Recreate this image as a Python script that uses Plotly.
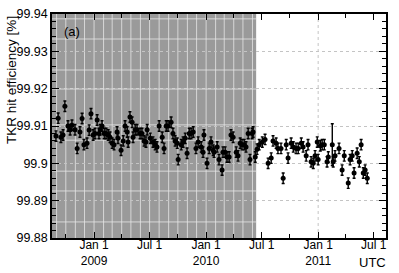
import plotly.graph_objects as go
import pandas as pd

# days since 2009-01-01
day_offset = [
    -124, -117, -108, -101, -95, -85, -78, -72, -62, -55,
    -46, -39, -33, -23, -16, -10, -3, 3, 10, 16,
    20, 26, 33, 39, 46, 52, 59, 65, 75, 78,
    88, 95, 101, 108, 111, 117, 124, 127, 134, 140,
    150, 156, 163, 169, 173, 183, 192, 199, 205, 212,
    222, 228, 235, 241, 251, 257, 264, 271, 274, 284,
    290, 297, 303, 310, 316, 323, 332, 339, 349, 355,
    358, 368, 375, 381, 388, 391, 401, 407, 417, 420,
    427, 433, 440, 446, 453, 463, 469, 476, 482, 489,
    495, 502, 508, 515, 518, 525,
    531, 538, 548, 557, 567, 577, 583, 593, 599, 609,
    616, 626, 632, 642, 649, 658, 665, 675, 681, 691,
    697, 707, 714, 720, 727, 730, 737, 743, 750, 759,
    763, 776, 779, 785, 798, 808, 815, 828, 834, 841,
    847, 857, 864, 870, 877, 883, 890,
]

efficiency = [
    99.9073, 99.9121, 99.9070, 99.9076, 99.9153, 99.9100, 99.9090, 99.9102, 99.9090, 99.9040,
    99.9084, 99.9120, 99.9050, 99.9054, 99.9089, 99.9133, 99.9076, 99.9080, 99.9116, 99.9080,
    99.9090, 99.9100, 99.9080, 99.9080, 99.9076, 99.9070, 99.9054, 99.9050, 99.9084, 99.9067,
    99.9035, 99.9060, 99.9100, 99.9084, 99.9057, 99.9124, 99.9110, 99.9070, 99.9090, 99.9090,
    99.9080, 99.9080, 99.9060, 99.9057, 99.9090, 99.9067, 99.9057, 99.9050, 99.9044, 99.9100,
    99.9070, 99.9040, 99.9100, 99.9100, 99.9110, 99.9080, 99.9060, 99.9054, 99.9010, 99.9050,
    99.9057, 99.9067, 99.9027, 99.9080, 99.9080, 99.9084, 99.9040, 99.9057, 99.9044, 99.9030,
    99.9076, 99.9000, 99.9040, 99.9057, 99.9035, 99.9030, 99.9044, 99.9010, 99.8982, 99.9030,
    99.9030, 99.9017, 99.9017, 99.9076, 99.9070, 99.9030, 99.9020, 99.9054, 99.9050, 99.9050,
    99.9044, 99.9080, 99.9010, 99.9080, 99.9084, 99.9017,
    99.9038, 99.9050, 99.9057, 99.9064, 99.9000, 99.9014, 99.9060, 99.9054, 99.9040, 99.9040,
    99.8960, 99.9050, 99.9014, 99.9054, 99.9044, 99.9040, 99.9040, 99.9054, 99.9044, 99.9020,
    99.9050, 99.9004, 99.9000, 99.9020, 99.9057, 99.9010, 99.9047, 99.9050, 99.9050, 99.9004,
    99.9017, 99.9050, 99.9004, 99.9020, 99.9040, 99.8982, 99.9020, 99.8947, 99.9010, 99.9020,
    99.8974, 99.9027, 99.9004, 99.9050, 99.8974, 99.8982, 99.8960,
]

error = [
    0.0014, 0.0014, 0.0014, 0.0014, 0.0014, 0.0014, 0.0014, 0.0014, 0.0014, 0.0014,
    0.0014, 0.0014, 0.0014, 0.0014, 0.0014, 0.0014, 0.0014, 0.0014, 0.0014, 0.0014,
    0.0014, 0.0014, 0.0014, 0.0014, 0.0014, 0.0014, 0.0014, 0.0014, 0.0014, 0.0014,
    0.0014, 0.0014, 0.0014, 0.0014, 0.0014, 0.0014, 0.0014, 0.0014, 0.0014, 0.0014,
    0.0014, 0.0014, 0.0014, 0.0014, 0.0014, 0.0014, 0.0014, 0.0014, 0.0014, 0.0014,
    0.0014, 0.0014, 0.0014, 0.0014, 0.0014, 0.0014, 0.0014, 0.0014, 0.0014, 0.0014,
    0.0014, 0.0014, 0.0014, 0.0014, 0.0014, 0.0014, 0.0014, 0.0014, 0.0014, 0.0014,
    0.0014, 0.0014, 0.0014, 0.0014, 0.0014, 0.0014, 0.0014, 0.0014, 0.0014, 0.0014,
    0.0014, 0.0014, 0.0014, 0.0014, 0.0014, 0.0014, 0.0014, 0.0014, 0.0014, 0.0014,
    0.0014, 0.0014, 0.0014, 0.0014, 0.0014, 0.0014,
    0.0014, 0.0014, 0.0014, 0.0014, 0.0014, 0.0014, 0.0014, 0.0014, 0.0014, 0.0014,
    0.0014, 0.0014, 0.0014, 0.0014, 0.0014, 0.0014, 0.0014, 0.0014, 0.0014, 0.0014,
    0.0014, 0.0014, 0.0014, 0.0014, 0.0014, 0.0014, 0.0014, 0.0014, 0.0014, 0.0014,
    0.0014, 0.0056, 0.0014, 0.0014, 0.0014, 0.0014, 0.0014, 0.0014, 0.0014, 0.0014,
    0.0014, 0.0014, 0.0014, 0.0014, 0.0014, 0.0014, 0.0014,
]

y_tick_vals = [99.88, 99.89, 99.90, 99.91, 99.92, 99.93, 99.94]
y_tick_text = ["99.88", "99.89", "99.9", "99.91", "99.92", "99.93", "99.94"]
x_tick_vals = ["2009-01-01", "2009-07-01", "2010-01-01", "2010-07-01", "2011-01-01", "2011-07-01"]
x_tick_text = ["Jan 1<br>2009", "Jul 1", "Jan 1<br>2010", "Jul 1", "Jan 1<br>2011", "Jul 1"]

x_range = ["2008-08-17", "2011-08-10"]
shade_end = "2010-06-13"
# decorative hatch lines inside the shaded period
shade_hlines = [99.9387, 99.9333, 99.9250, 99.9199, 99.9103, 99.9062, 99.8979, 99.8926, 99.8843]
shade_vlines = pd.date_range("2008-09-01", "2010-06-01", freq="MS")

dates = pd.Timestamp("2009-01-01") + pd.to_timedelta(day_offset, unit="D")

fig = go.Figure()
fig.add_trace(go.Scatter(
    x=dates, y=efficiency, mode="markers",
    marker=dict(color="black", size=5),
    error_y=dict(type="data", array=error, color="black", thickness=1.4, width=1.5),
    showlegend=False,
))

shapes = [dict(type="rect", xref="x", yref="paper", x0=x_range[0], x1=shade_end,
               y0=0, y1=1, fillcolor="#9a9a9a", line=dict(width=0), layer="between")]
for d in shade_vlines:
    shapes.append(dict(type="line", xref="x", yref="paper", x0=d, x1=d, y0=0, y1=1,
                       line=dict(color="rgba(230,230,230,0.8)", width=1), layer="between"))
for v in shade_hlines:
    shapes.append(dict(type="line", xref="x", yref="y", x0=x_range[0], x1=shade_end, y0=v, y1=v,
                       line=dict(color="rgba(230,230,230,0.8)", width=1), layer="between"))
shapes.append(dict(type="line", xref="x", yref="paper", x0="2011-01-01", x1="2011-01-01", y0=0, y1=1,
                   line=dict(color="#c4c4c4", width=1, dash="dot"), layer="below"))

fig.update_layout(
    width=399, height=273,
    margin=dict(l=52, r=13, t=14, b=35, autoexpand=False),
    plot_bgcolor="white", paper_bgcolor="white",
    font=dict(family="Liberation Sans, Arial, sans-serif", size=12.5, color="black"),
    shapes=shapes,
    xaxis=dict(
        type="date", range=x_range, automargin=False,
        tickmode="array", tickvals=x_tick_vals, ticktext=x_tick_text,
        tickfont=dict(size=12), ticklabelstandoff=-5,
        ticks="inside", ticklen=6, tickcolor="black", tickwidth=1,
        showline=True, linecolor="black", linewidth=1.5, mirror="ticks",
        showgrid=False, zeroline=False,
        minor=dict(ticks="inside", ticklen=4, dtick="M3", tick0="2008-07-01",
                   tickcolor="black", showgrid=False),
    ),
    yaxis=dict(
        range=[99.88, 99.94], automargin=False,
        tickmode="array", tickvals=y_tick_vals, ticktext=y_tick_text,
        tickfont=dict(size=12.5),
        ticks="inside", ticklen=7, tickcolor="black", tickwidth=1,
        showline=True, linecolor="black", linewidth=1.5, mirror="ticks",
        showgrid=True, gridcolor="#c4c4c4", griddash="dot", gridwidth=1,
        zeroline=False,
        minor=dict(ticks="inside", ticklen=4, dtick=0.002, tick0=99.88,
                   tickcolor="black", showgrid=False),
    ),
    annotations=[
        dict(text="TKR hit efficiency [%]", textangle=-90, xref="paper", yref="paper",
             x=-0.123, y=1.0, xanchor="center", yanchor="top", showarrow=False,
             font=dict(size=13.5)),
        dict(text="(a)", xref="paper", yref="paper", x=0.03, y=0.924,
             xanchor="left", yanchor="middle", showarrow=False, font=dict(size=13)),
        dict(text="UTC", xref="paper", yref="paper", x=0.961, y=-0.109,
             xanchor="center", yanchor="middle", showarrow=False, font=dict(size=13)),
    ],
)

# remove the page's default 8px body margin so the figure fills the window
fig.write_html("out.html", config={"displayModeBar": False},
               post_script="document.body.style.margin='0';")
